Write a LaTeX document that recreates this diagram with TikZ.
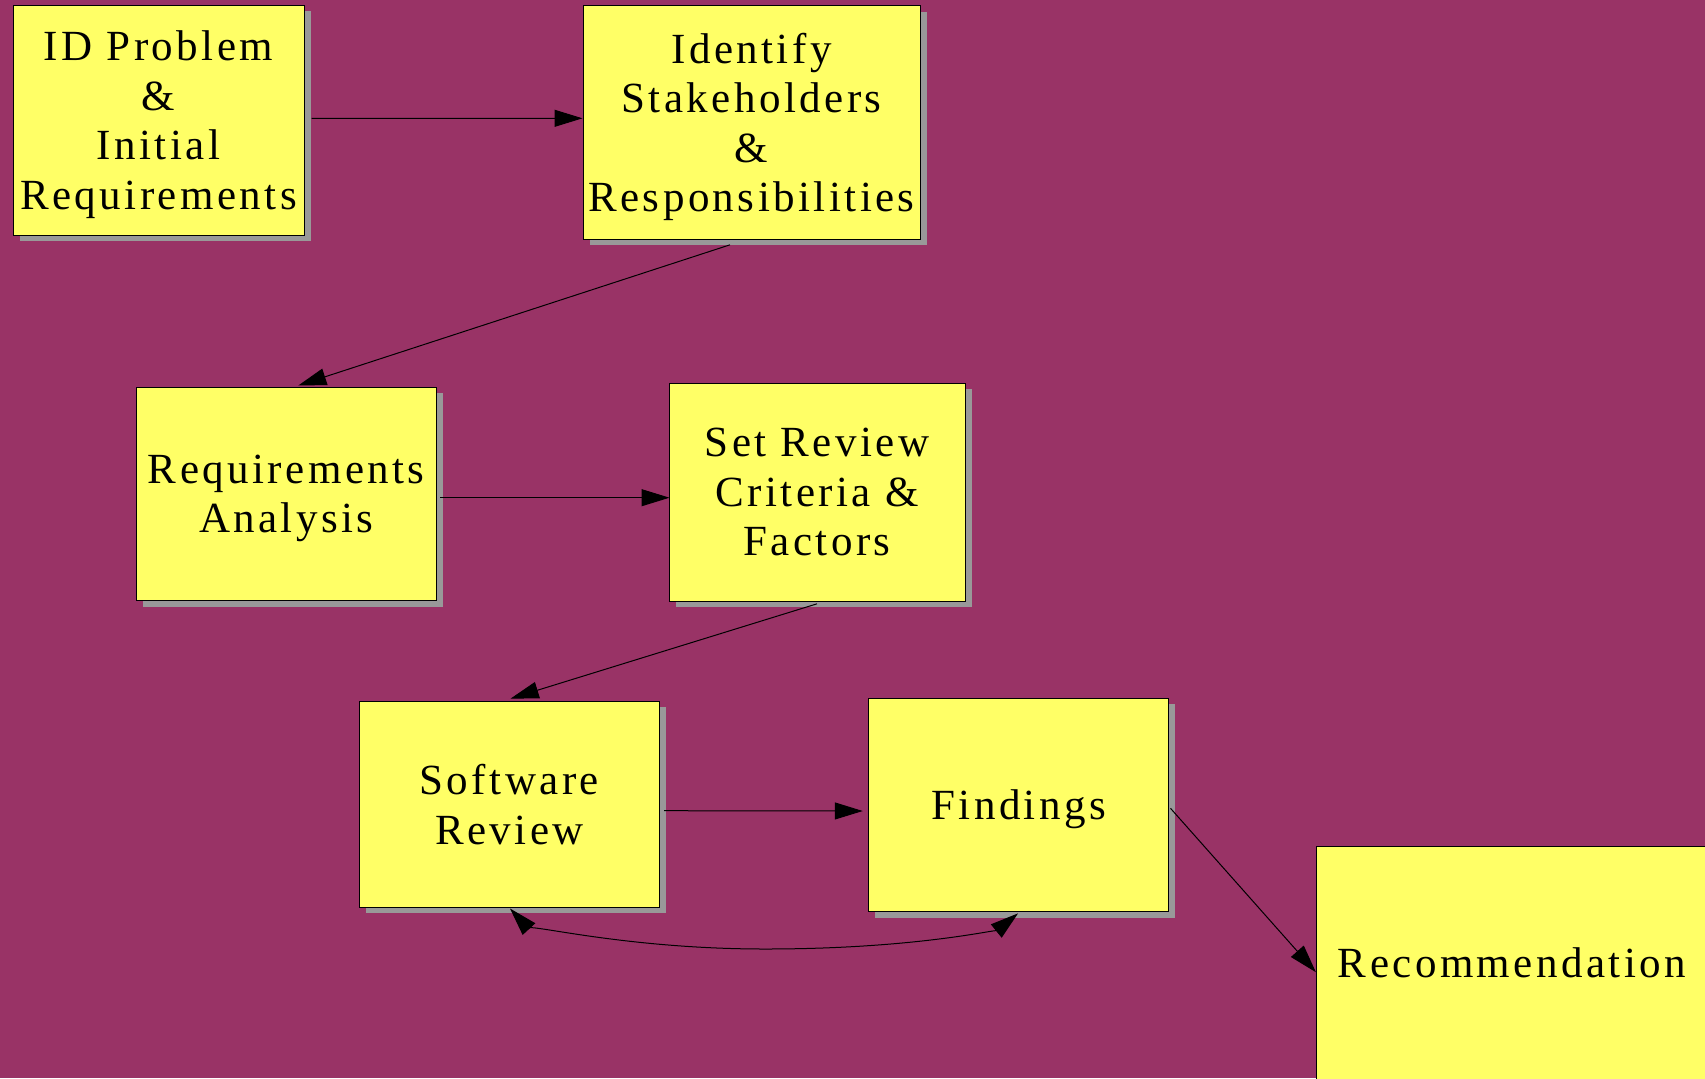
\documentclass[tikz,border=0pt]{standalone}
\usepackage{fontspec}
\setmainfont{Liberation Serif}[LetterSpace=8]
\usetikzlibrary{arrows.meta,calc,shadows}
\definecolor{bgpurple}{HTML}{993366}
\definecolor{boxyellow}{HTML}{FFFF66}
\definecolor{shadowgray}{HTML}{999999}
\tikzset{
  stepbox/.style={draw=black, line width=0.5pt, fill=boxyellow, inner sep=0pt,
    align=center, text depth=0pt, font=\fontsize{21.5}{24.75}\selectfont},
  shadowed/.style={drop shadow={shadow xshift=3.25pt, shadow yshift=-3pt,
    fill=shadowgray, opacity=1}},
  flow/.style={draw=black, line width=0.5pt, -{Triangle[length=14pt,width=8.5pt]}},
  flowboth/.style={draw=black, line width=0.5pt,
    {Triangle[length=14pt,width=8.5pt]}-{Triangle[length=14pt,width=8.5pt]}},
}
\begin{document}
\begin{tikzpicture}[x=0.5pt,y=-0.5pt]
\useasboundingbox (0,0) rectangle (1705,1078);
\fill[bgpurple] (0,0) rectangle (1705,1078);

\node[stepbox, shadowed, minimum width=145.5pt, minimum height=115pt] (b1) at (158.5,120)
  {ID Problem\\\&\\Initial\\Requirements};
\node[stepbox, shadowed, minimum width=168.5pt, minimum height=116.7pt] (b2) at (751.5,122.3)
  {Identify\\Stakeholders\\\&\\Responsibilities};
\node[stepbox, shadowed, minimum width=150pt, minimum height=106.8pt] (b3) at (286.3,493.8)
  {Requirements\\Analysis};
\node[stepbox, shadowed, minimum width=148pt, minimum height=108.8pt] (b4) at (817,492.2)
  {Set Review\\Criteria \&\\Factors};
\node[stepbox, shadowed, minimum width=150.3pt, minimum height=103pt] (b5) at (509.3,804.3)
  {Software\\Review};
\node[stepbox, shadowed, minimum width=150pt, minimum height=106.8pt] (b6) at (1018.7,804.8)
  {Findings};
\node[stepbox, minimum width=196pt, minimum height=116.5pt] (b7) at (1512,963)
  {Recommendation};

\draw[flow] ($(b1.east)+(7,-1.7)$) -- ($(b2.west)+(0,-4)$);
\draw[flow] ($(b2.south)+(-21.5,5.3)$) -- ($(b3.north)+(12,-1)$);
\draw[flow] ($(b3.east)+(3.5,3.9)$) -- ($(b4.west)+(1,5.5)$);
\draw[flow] ($(b4.south)+(0,2.3)$) -- ($(b5.north)+(1.4,-2.3)$);
\draw[flow] ($(b5.east)+(4,6.4)$) -- ($(b6.west)+(-5.4,6.2)$);
\draw[flow] ($(b6.east)+(1.3,3.5)$) -- ($(b7.west)+(0.4,9.2)$);
\draw[flowboth] ($(b5.south)+(0.7,0.7)$) .. controls +(12,13) and (620,949) .. (765,949)
  .. controls (920,949) and (1000,928) .. ($(b6.south)+(-0.7,1.3)$);
\end{tikzpicture}
\end{document}
